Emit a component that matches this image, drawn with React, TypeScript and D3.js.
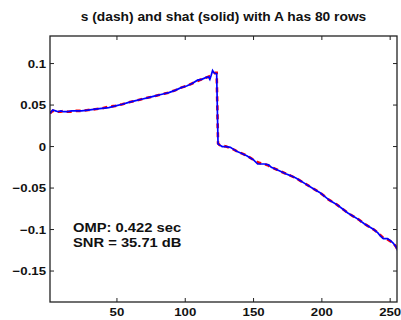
import React, { useEffect, useRef } from 'react';
import * as d3 from 'd3';

const idx = [1, 3, 5, 7, 9, 11, 14, 17, 20, 24, 29, 34, 39, 44, 49, 54, 58, 63, 68, 73, 78, 83, 88, 93, 97, 101, 105, 109, 112, 115, 117, 118, 119, 120, 121, 122, 123, 124, 125, 127, 130, 133, 136, 138, 141, 145, 148, 150, 153, 155, 158, 161, 163, 166, 170, 174, 177, 181, 184, 188, 192, 195, 199, 202, 205, 208, 211, 215, 219, 223, 227, 231, 235, 238, 241, 243, 245, 248, 250, 252, 254, 256];

// s (original signal, dashed red)
const sVals = [0.040, 0.043, 0.043, 0.042, 0.042, 0.043, 0.042, 0.042, 0.043, 0.043, 0.044, 0.045, 0.046, 0.048, 0.049, 0.051, 0.053, 0.055, 0.057, 0.059, 0.061, 0.063, 0.065, 0.068, 0.071, 0.073, 0.076, 0.079, 0.081, 0.083, 0.084, 0.085, 0.086, 0.087, 0.088, 0.089, 0.089, 0.004, 0.002, 0.001, 0.000, -0.002, -0.004, -0.006, -0.008, -0.011, -0.014, -0.016, -0.019, -0.020, -0.021, -0.023, -0.025, -0.027, -0.030, -0.033, -0.035, -0.038, -0.041, -0.045, -0.049, -0.052, -0.056, -0.060, -0.064, -0.067, -0.070, -0.075, -0.080, -0.084, -0.088, -0.093, -0.097, -0.100, -0.104, -0.107, -0.110, -0.112, -0.114, -0.116, -0.120, -0.126];

// shat (recovered signal, solid blue)
const shatVals = [0.040, 0.044, 0.043, 0.042, 0.043, 0.042, 0.042, 0.043, 0.043, 0.043, 0.044, 0.045, 0.046, 0.047, 0.049, 0.051, 0.053, 0.055, 0.057, 0.059, 0.061, 0.063, 0.065, 0.068, 0.071, 0.073, 0.076, 0.080, 0.081, 0.083, 0.084, 0.081, 0.086, 0.0915, 0.089, 0.088, 0.088, 0.003, 0.002, 0.000, 0.000, -0.001, -0.004, -0.006, -0.008, -0.011, -0.014, -0.016, -0.021, -0.021, -0.021, -0.022, -0.025, -0.027, -0.030, -0.033, -0.035, -0.038, -0.041, -0.045, -0.049, -0.052, -0.056, -0.060, -0.064, -0.067, -0.070, -0.075, -0.080, -0.084, -0.088, -0.093, -0.097, -0.100, -0.104, -0.108, -0.111, -0.111, -0.113, -0.116, -0.120, -0.127];

const xTicks = [50, 100, 150, 200, 250];
const yTicks = [-0.15, -0.1, -0.05, 0, 0.05, 0.1];
const yTickLabels = ['\u22120.15', '\u22120.1', '\u22120.05', '0', '0.05', '0.1'];

const title = 's (dash) and shat (solid) with A has 80 rows';
const notes = ['OMP: 0.422 sec', 'SNR = 35.71 dB'];

const W = 401, H = 320;
const L = 50, R = 397, T = 36, B = 302;

function Chart() {
  const ref = useRef<SVGSVGElement>(null);

  useEffect(() => {
    const svg = d3.select(ref.current);
    svg.selectAll('*').remove();

    const x = d3.scaleLinear().domain([1, 255]).range([L, R]);
    const y = d3.scaleLinear().domain([-0.1873, 0.1332]).range([B, T]);
    const font = '"Liberation Sans", Arial, Helvetica, sans-serif';

    svg.append('defs').append('clipPath').attr('id', 'plotclip')
      .append('rect').attr('x', L).attr('y', T).attr('width', R - L).attr('height', B - T);

    const line = d3.line<number>()
      .x((d, i) => x(idx[i]))
      .y(d => y(d));

    const plot = svg.append('g').attr('clip-path', 'url(#plotclip)');
    plot.append('path')
      .attr('d', line(sVals))
      .attr('fill', 'none')
      .attr('stroke', '#ff0000')
      .attr('stroke-width', 2.6)
      .attr('stroke-dasharray', '5,4');
    plot.append('path')
      .attr('d', line(shatVals))
      .attr('fill', 'none')
      .attr('stroke', '#0000ff')
      .attr('stroke-width', 1.7);

    // box
    svg.append('rect')
      .attr('x', L).attr('y', T).attr('width', R - L).attr('height', B - T)
      .attr('fill', 'none').attr('stroke', '#222').attr('stroke-width', 1.3);

    const tk = 4;
    xTicks.forEach(t => {
      svg.append('line').attr('x1', x(t)).attr('x2', x(t)).attr('y1', B).attr('y2', B - tk).attr('stroke', '#222');
      svg.append('line').attr('x1', x(t)).attr('x2', x(t)).attr('y1', T).attr('y2', T + tk).attr('stroke', '#222');
      svg.append('text')
        .attr('transform', `translate(${x(t)},316) scale(1.15,1)`)
        .attr('text-anchor', 'middle')
        .attr('font-family', font).attr('font-weight', 'bold').attr('font-size', 11.5)
        .attr('fill', '#111')
        .text(t);
    });
    yTicks.forEach((t, i) => {
      svg.append('line').attr('x1', L).attr('x2', L + tk).attr('y1', y(t)).attr('y2', y(t)).attr('stroke', '#222');
      svg.append('line').attr('x1', R).attr('x2', R - tk).attr('y1', y(t)).attr('y2', y(t)).attr('stroke', '#222');
      svg.append('text')
        .attr('transform', `translate(46,${y(t) + 4}) scale(1.15,1)`)
        .attr('text-anchor', 'end')
        .attr('font-family', font).attr('font-weight', 'bold').attr('font-size', 11.5)
        .attr('fill', '#111')
        .text(yTickLabels[i]);
    });

    svg.append('text')
      .attr('transform', `translate(${(L + R) / 2},21) scale(1.15,1)`)
      .attr('text-anchor', 'middle')
      .attr('font-family', font).attr('font-weight', 'bold').attr('font-size', 12)
      .attr('fill', '#111')
      .text(title);

    notes.forEach((n, i) => {
      svg.append('text')
        .attr('transform', `translate(73,${232 + i * 15}) scale(1.18,1)`)
        .attr('font-family', font).attr('font-weight', 'bold').attr('font-size', 12.5)
        .attr('fill', '#111')
        .text(n);
    });
  }, []);

  return <svg ref={ref} width={W} height={H} style={{ position: 'absolute', left: 0, top: 0, background: '#fff' }} />;
}

export default function App() {
  return <Chart />;
}
